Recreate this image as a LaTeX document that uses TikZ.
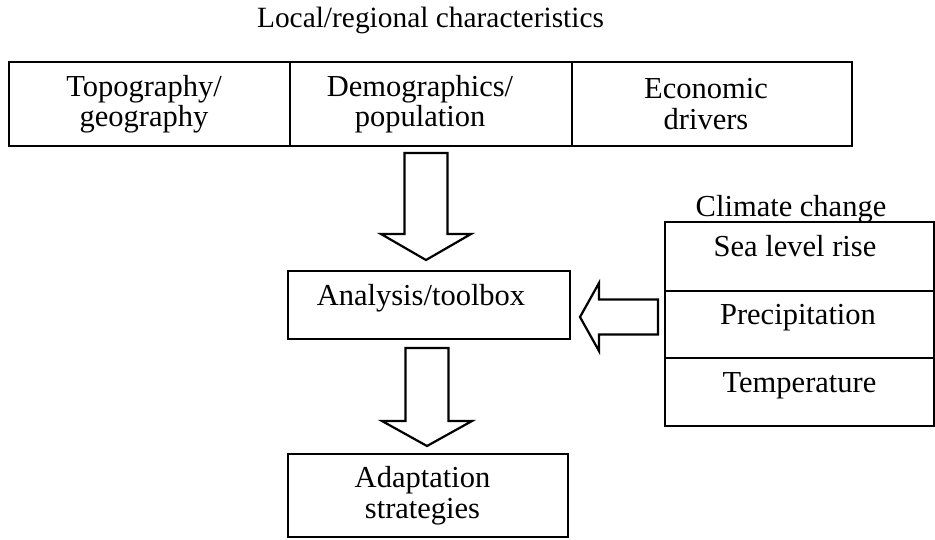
\documentclass[tikz,border=0pt]{standalone}
\usepackage{fontspec}
\setmainfont{Liberation Serif}
\usetikzlibrary{calc}
\begin{document}
\begin{tikzpicture}[x=1pt,y=-1pt,
  every node/.style={font=\fontsize{30.5}{30.5}\selectfont, inner sep=0pt, outer sep=0pt},
  box/.style={draw, line width=2.2pt, rectangle, align=center},
  cell/.style={draw, line width=2.2pt, rectangle, text height=21pt, text depth=21pt},
  blk/.style={draw, line width=2.2pt, fill=white, line join=miter}]
\useasboundingbox (0,0) rectangle (935,539);
% title
\node[anchor=base, font=\fontsize{29.4}{30}\selectfont] (title) at (430.5,27) {Local/regional characteristics};
% top row
\node[box, minimum width=281pt, minimum height=84pt] (topo) at (149.5,104) {Topography/\hspace*{11pt}\\geography\hspace*{11pt}};
\node[box, minimum width=282pt, minimum height=84pt] (demo) at (431,104) {Demographics/\hspace*{22pt}\\population\hspace*{22pt}};
\node[box, minimum width=280pt, minimum height=84pt] (econ) at (712,104) {Economic\hspace*{12pt}\\drivers\hspace*{12pt}};
% analysis
\node[cell, minimum width=282pt, minimum height=68pt] (ana) at (429,305) {Analysis/toolbox\hspace*{16pt}};
% adaptation
\node[box, minimum width=280pt, minimum height=83pt] (adapt) at (428,495.5) {Adaptation\hspace*{11pt}\\strategies\hspace*{11pt}};
% climate change
\node[anchor=base] (cc) at (791,216) {Climate change};
\node[cell, minimum width=269pt, minimum height=69pt] (sea) at (799.5,256.5) {Sea level rise\hspace*{9pt}};
\node[cell, minimum width=269pt, minimum height=67pt] (prec) at (799.5,324.5) {Precipitation\hspace*{3pt}};
\node[cell, minimum width=269pt, minimum height=68pt] (temp) at (799.5,392) {Temperature};
% block arrows
\coordinate (a1s) at ($(demo.south)+(-5,7)$);
\coordinate (a1e) at ($(ana.north)+(-3,-11)$);
\draw[blk] ($(a1s)+(-21.5,0)$) -- ($(a1e)+(-21.5,-26)$) -- ($(a1e)+(-45,-26)$) -- (a1e)
  -- ($(a1e)+(45,-26)$) -- ($(a1e)+(21.5,-26)$) -- ($(a1s)+(21.5,0)$) -- cycle;
\coordinate (a2s) at ($(ana.south)+(-2,9)$);
\coordinate (a2e) at ($(adapt.north)+(-1,-8)$);
\draw[blk] ($(a2s)+(-21.5,0)$) -- ($(a2e)+(-21.5,-25)$) -- ($(a2e)+(-45,-25)$) -- (a2e)
  -- ($(a2e)+(45,-25)$) -- ($(a2e)+(21.5,-25)$) -- ($(a2s)+(21.5,0)$) -- cycle;
\coordinate (a3e) at ($(ana.east)+(10,12)$);
\coordinate (a3s) at ($(prec.west)+(-7,-7.5)$);
\draw[blk] ($(a3s)+(0,-17.5)$) -- ($(a3e)+(19,-17.5)$) -- ($(a3e)+(19,-34)$) -- (a3e)
  -- ($(a3e)+(19,34)$) -- ($(a3e)+(19,17.5)$) -- ($(a3s)+(0,17.5)$) -- cycle;
\end{tikzpicture}
\end{document}
